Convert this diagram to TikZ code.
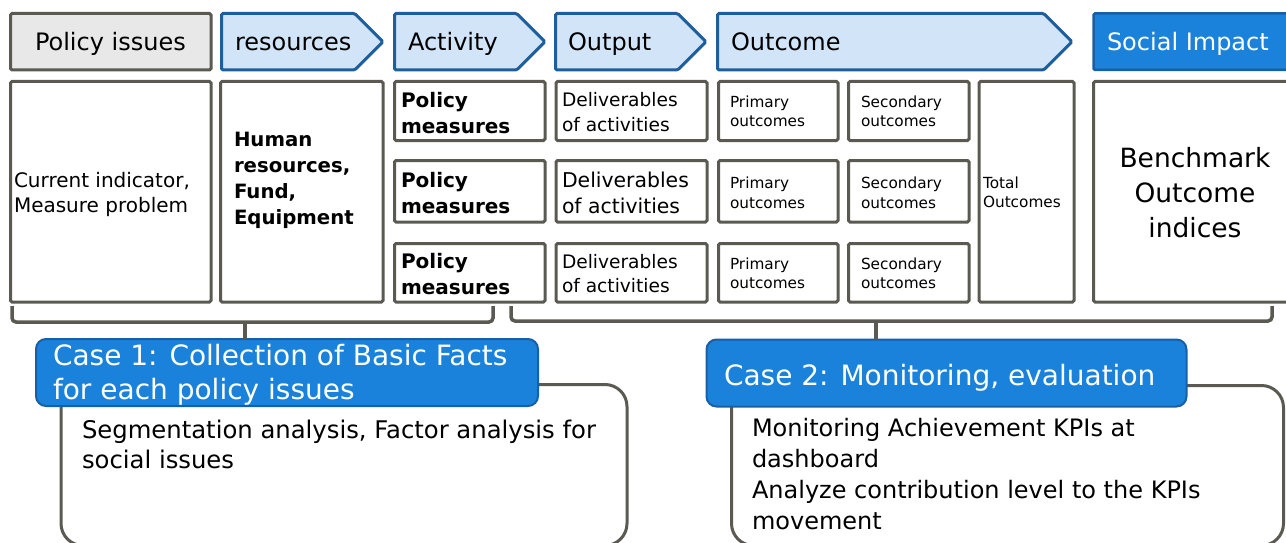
\documentclass[tikz,border=0pt]{standalone}
\usepackage{fontspec}
\setmainfont{DejaVu Sans}
\usetikzlibrary{shapes.symbols}

\definecolor{edgegray}{HTML}{5A5A53}
\definecolor{fillgray}{HTML}{E8E8E8}
\definecolor{lightblue}{HTML}{D2E5F8}
\definecolor{stageblue}{HTML}{1E5E9C}
\definecolor{caseblue}{HTML}{1A82DA}
\definecolor{caseedge}{HTML}{1760A8}

\begin{document}
\begin{tikzpicture}[x=1pt,y=-1pt,
  fs/.style 2 args={font=\fontsize{#1}{#2}\selectfont},
  fsb/.style 2 args={font=\fontsize{#1}{#2}\selectfont\bfseries},
  stage/.style={signal, signal to=east, signal pointer angle=90,
    draw=stageblue, fill=lightblue, line width=3pt, minimum height=56.5pt,
    inner sep=0pt, outer sep=0pt, anchor=west, rounded corners=1.5pt},
  cell/.style={rectangle, draw=edgegray, line width=3pt, inner sep=0pt,
    outer sep=0pt, anchor=north west, rounded corners=1.5pt},
  txt/.style={inner sep=0pt, outer sep=0pt, anchor=west, align=left},
  headtxt/.style={inner sep=0pt, outer sep=0pt, anchor=base west, font=\fontsize{24}{28}\selectfont},
  bracket/.style={draw=edgegray, line width=3.5pt, rounded corners=4pt},
  casehead/.style={rectangle, fill=caseblue, draw=caseedge, line width=2pt,
    rounded corners=10pt, inner sep=0pt, outer sep=0pt, anchor=north west},
  casebody/.style={rectangle, fill=white, draw=edgegray, line width=3pt,
    rounded corners=22pt, inner sep=0pt, outer sep=0pt, anchor=north west},
]
\useasboundingbox (0,0) rectangle (1286,543);

% ---- stage headers ----
\node[cell, fill=fillgray, minimum width=200.5pt, minimum height=56.5pt] (hpi) at (10.5,13.5) {};
\node[stage, minimum width=161.5pt] (hres) at (221.5,41.75) {};
\node[stage, minimum width=150.5pt] (hact) at (394.5,41.75) {};
\node[stage, minimum width=150.5pt] (hout) at (555.5,41.75) {};
\node[stage, minimum width=354.5pt] (hoc)  at (717.5,41.75) {};
\node[rectangle, fill=caseblue, draw=caseedge, line width=2.5pt, inner sep=0pt,
      outer sep=0pt, anchor=north west, rounded corners=1.5pt,
      minimum width=210pt, minimum height=56.5pt] (hsi) at (1093.5,13.5) {};

\node[headtxt] (tpi)  at (35,51) {Policy issues};
\node[headtxt] (tres) at (235,51) {resources};
\node[headtxt] (tact) at (408,51) {Activity};
\node[headtxt] (tout) at (568,51) {Output};
\node[headtxt] (toc)  at (731,51) {Outcome};
\node[headtxt, text=white] (tsi) at (1107,51) {Social Impact};

% ---- cells ----
\node[cell, minimum width=200.5pt, minimum height=220.5pt] (cur) at (10.5,81.5) {};
\node[cell, minimum width=162.5pt, minimum height=220.5pt] (hum) at (220.5,81.5) {};
\foreach \r/\t/\h in {1/81.5/59, 2/160.5/61.5, 3/243.5/58.5}{
  \node[cell, minimum width=150.5pt, minimum height=\h pt] (pm\r)  at (394.5,\t) {};
  \node[cell, minimum width=151pt,   minimum height=\h pt] (del\r) at (556,\t) {};
  \node[cell, minimum width=119.5pt, minimum height=\h pt] (pri\r) at (718.5,\t) {};
  \node[cell, minimum width=120.5pt, minimum height=\h pt] (sec\r) at (848.5,\t) {};
}
\node[cell, minimum width=95pt, minimum height=220.5pt] (tot) at (979,81.5) {};
\node[cell, minimum width=210pt, minimum height=220.5pt] (bench) at (1093.5,81.5) {};

\node[txt, fs={20}{25}] (tcur) at (14,194.5) {Current indicator,\\Measure problem};
\node[txt, fsb={19.7}{26}] (thum) at (234,180) {Human\\resources,\\Fund,\\Equipment};
\foreach \r/\y in {1/113, 2/193.5, 3/274}{
  \node[txt, fsb={20}{26}] (tpm\r) at (401,\y) {Policy\\measures};
}
\node[txt, fs={18.6}{25}] (tdel1) at (562,112.5) {Deliverables\\of activities};
\node[txt, fs={20.4}{26}] (tdel2) at (562,193)   {Deliverables\\of activities};
\node[txt, fs={18.6}{24}] (tdel3) at (562,274)   {Deliverables\\of activities};
\foreach \r/\y in {1/111.5, 2/193, 3/273.5}{
  \node[txt, fs={15.3}{19.5}] (tpri\r) at (730,\y) {Primary\\outcomes};
  \node[txt, fs={15.3}{19.5}] (tsec\r) at (861,\y) {Secondary\\outcomes};
}
\node[txt, fs={15.3}{19.5}] (ttot) at (983,192.5) {Total\\Outcomes};
\node[inner sep=0pt, align=center, fs={26.5}{35}] (tbench) at (1195,193) {Benchmark\\Outcome\\indices};

% ---- brackets ----
\coordinate (b1l) at (12,306);
\coordinate (b1r) at (493,306);
\coordinate (b2l) at (511,306);
\coordinate (b2r) at (1272,306);
\coordinate (s1) at (245,322);
\coordinate (s2) at (876,321);
\draw[bracket] (b1l) -- ++(0,16) -- ++(481,0) -- (b1r);
\draw[bracket] (b2l) -- ++(0,15) -- ++(761,0) -- (b2r);

% ---- case panels ----
\node[casebody, minimum width=566pt, minimum height=161pt] (c1body) at (61,384.5) {};
\node[casebody, minimum width=552pt, minimum height=160pt] (c2body) at (731.5,385.5) {};
\node[casehead, minimum width=502pt, minimum height=67pt] (c1head) at (36,339) {};
\node[casehead, minimum width=480pt, minimum height=67pt] (c2head) at (706.5,339.5) {};

\draw[edgegray, line width=3.5pt] (s1) -- (s1 |- c1head.north);
\draw[edgegray, line width=3.5pt] (s2) -- (s2 |- c2head.north);

\node[txt, fs={28}{34}, text=white] (tc1) at (53,375) {Case 1: Collection of Basic Facts\\for each policy issues};
\node[inner sep=0pt, outer sep=0pt, anchor=base west, fs={28}{34}, text=white] (tc2) at (724,385) {Case 2: Monitoring, evaluation};

\node[txt, fs={24.3}{30}] (tb1) at (82,444) {Segmentation analysis, Factor analysis for\\social issues};
\node[txt, fs={24}{30.7}] (tb2) at (752,474) {Monitoring Achievement KPIs at\\dashboard\\Analyze contribution level to the KPIs\\movement};
\end{tikzpicture}
\end{document}
